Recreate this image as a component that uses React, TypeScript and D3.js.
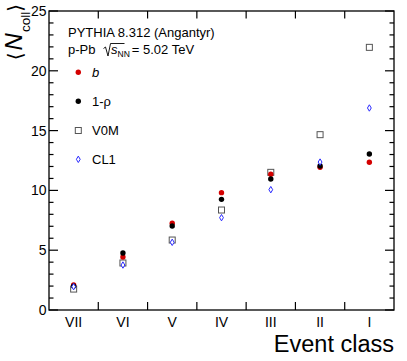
import React from "react";
import * as d3 from "d3";

const categories = ["VII", "VI", "V", "IV", "III", "II", "I"];
const bValues = [2.1, 4.43, 7.25, 9.81, 11.35, 11.93, 12.35];
const rhoValues = [2.0, 4.77, 7.02, 9.25, 10.95, 12.04, 13.04];
const v0mValues = [1.75, 3.93, 5.85, 8.36, 11.51, 14.66, 21.96];
const cl1Values = [1.95, 3.76, 5.66, 7.72, 10.06, 12.37, 16.89];
const yMajorTicks = [0, 5, 10, 15, 20, 25];
const legendLabels = ["b", "1-ρ", "V0M", "CL1"];

const W = 407;
const H = 361;
const L = 49, R = 394, T = 11, B = 310;
const FONT = "'Liberation Sans', Arial, Helvetica, sans-serif";

export default function App() {
  const x = d3.scaleBand<string>().domain(categories).range([L, R]).padding(0);
  const y = d3.scaleLinear().domain([0, 25]).range([B, T]);
  const minorTicks = d3.range(0, 26, 1);
  const boundaries = categories.slice(1).map((c) => x(c) as number);
  const cx = (c: string) => (x(c) as number) + x.bandwidth() / 2;

  const circle = (key: string, px: number, py: number, fill: string) => (
    <circle key={key} cx={px} cy={py} r={2.7} fill={fill} />
  );
  const square = (key: string, px: number, py: number) => (
    <rect key={key} x={px - 3} y={py - 3} width={6} height={6} fill="white" stroke="#555" strokeWidth={1} />
  );
  const diamond = (key: string, px: number, py: number) => (
    <path key={key} d={`M${px},${py - 3.2}L${px + 1.9},${py}L${px},${py + 3.2}L${px - 1.9},${py}Z`} fill="white" stroke="#2a2aff" strokeWidth={1} />
  );

  const legendX = 78.3;
  const legendRows = [72.3, 101.3, 130.5, 159.3];

  return (
    <div style={{ position: "absolute", left: 0, top: 0 }}>
      <svg width={W} height={H} style={{ display: "block", background: "white" }}>
        {/* data */}
        {categories.map((c, i) => square("v" + i, cx(c), y(v0mValues[i])))}
        {categories.map((c, i) => circle("b" + i, cx(c), y(bValues[i]), "#d40000"))}
        {categories.map((c, i) => circle("r" + i, cx(c), y(rhoValues[i]), "#000"))}
        {categories.map((c, i) => diamond("c" + i, cx(c), y(cl1Values[i])))}

        {/* frame */}
        <rect x={L} y={T} width={R - L} height={B - T} fill="none" stroke="#000" strokeWidth={1.3} />
        {/* y ticks */}
        {minorTicks.map((t) => {
          const len = t % 5 === 0 ? 9 : 4.5;
          return (
            <g key={"yt" + t}>
              <line x1={L} x2={L + len} y1={y(t)} y2={y(t)} stroke="#000" strokeWidth={1.2} />
              <line x1={R} x2={R - len} y1={y(t)} y2={y(t)} stroke="#000" strokeWidth={1.2} />
            </g>
          );
        })}
        {/* x ticks */}
        {boundaries.map((bx, i) => (
          <g key={"xt" + i}>
            <line x1={bx} x2={bx} y1={B} y2={B - 8} stroke="#000" strokeWidth={1.2} />
            <line x1={bx} x2={bx} y1={T} y2={T + 7.5} stroke="#000" strokeWidth={1.2} />
          </g>
        ))}
        {/* y tick labels */}
        {yMajorTicks.map((t) => (
          <text key={"yl" + t} x={46.5} y={y(t) + 5} textAnchor="end" fontFamily={FONT} fontSize={14} fill="#000">
            {t}
          </text>
        ))}
        {/* x tick labels */}
        {categories.map((c) => (
          <text key={"xl" + c} x={cx(c)} y={327} textAnchor="middle" fontFamily={FONT} fontSize={14} fill="#000">
            {c}
          </text>
        ))}
        {/* axis titles */}
        <text x={R} y={351.5} textAnchor="end" fontFamily={FONT} fontSize={23.5} fill="#000">
          Event class
        </text>
        <g transform="translate(22,0) rotate(-90)">
          <text x={-4} y={0} textAnchor="end" fontFamily={FONT} fontSize={24} fill="#000">
            <tspan fontFamily="'DejaVu Sans', sans-serif" fontSize={20}>⟨</tspan>
            <tspan fontStyle="italic" dx={2}>N</tspan>
            <tspan fontSize={13.5} dy={8} dx={1}>coll</tspan>
            <tspan fontFamily="'DejaVu Sans', sans-serif" fontSize={20} dy={-8}>⟩</tspan>
          </text>
        </g>

        {/* header text */}
        <text x={68} y={37} fontFamily={FONT} fontSize={13} fill="#000">
          PYTHIA 8.312 (Angantyr)
        </text>
        <text x={68} y={54} fontFamily={FONT} fontSize={13} fill="#000">
          p-Pb
        </text>
        <path d="M103.5,48.5 L105.5,47 L108,56 L110.5,43.5 L124.5,43.5" fill="none" stroke="#000" strokeWidth={0.9} />
        <text x={111} y={54} fontFamily={FONT} fontSize={13} fill="#000">
          <tspan fontStyle="italic">s</tspan>
          <tspan fontSize={8.5} dy={3}>NN</tspan>
          <tspan dy={-3} dx={2}>= 5.02 TeV</tspan>
        </text>

        {/* legend */}
        <circle cx={legendX} cy={legendRows[0]} r={2.7} fill="#d40000" />
        <circle cx={legendX} cy={legendRows[1]} r={2.7} fill="#000" />
        <rect x={legendX - 3} y={legendRows[2] - 3} width={6} height={6} fill="white" stroke="#555" strokeWidth={1} />
        <path
          d={`M${legendX},${legendRows[3] - 3.2}L${legendX + 1.9},${legendRows[3]}L${legendX},${legendRows[3] + 3.2}L${legendX - 1.9},${legendRows[3]}Z`}
          fill="white"
          stroke="#2a2aff"
          strokeWidth={1}
        />
        {legendLabels.map((lab, i) => (
          <text
            key={"lg" + i}
            x={92}
            y={legendRows[i] + 4.7}
            fontFamily={FONT}
            fontSize={13}
            fontStyle={i === 0 ? "italic" : "normal"}
            fill="#000"
          >
            {lab}
          </text>
        ))}
      </svg>
    </div>
  );
}
